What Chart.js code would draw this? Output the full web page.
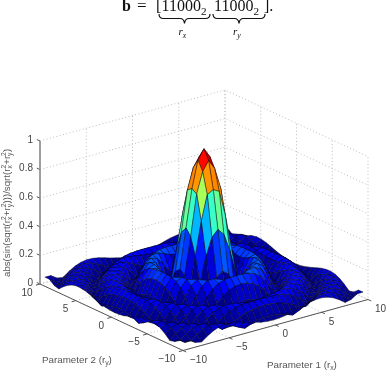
<!DOCTYPE html>
<html>
<head>
<meta charset="utf-8">
<title>sinc surface</title>
<script src="https://cdn.jsdelivr.net/npm/chart.js@4"></script>
<style>
    html, body { margin: 0; padding: 0; background: #fff; }
    canvas { display: block; }
</style>
</head>
<body>
<canvas id="surface" width="387" height="371"></canvas>
<script>
const xTicks = [-10, -5, 0, 5, 10];
const yTicks = [-10, -5, 0, 5, 10];
const zTicks = [0, 0.2, 0.4, 0.6, 0.8, 1];
const xTickLabels = ["\u221210", "\u22125", "0", "5", "10"];
const yTickLabels = ["\u221210", "\u22125", "0", "5", "10"];
const zTickLabels = ["0", "0.2", "0.4", "0.6", "0.8", "1"];

// sample positions from the centre outwards, the other half is the mirror image
const halfAxis = [0, 0.647, 1.293, 1.94, 2.587, 3.233, 3.88, 4.527, 5.173, 5.82, 6.467, 7.113, 7.76, 8.407, 9.053, 9.7];

// surface height for one quadrant, rows follow halfAxis
const quadrantZ = [
    [1.000, .932, .744, .481, .204, .028, .174, .217, .173, .077, .028, .104, .128, .101, .040, .028],
    [.932, .866, .720, .435, .172, .047, .181, .217, .168, .071, .033, .106, .128, .099, .038, .030],
    [.744, .720, .545, .311, .085, .096, .199, .212, .153, .053, .046, .112, .127, .093, .030, .036],
    [.481, .435, .311, .141, .028, .156, .215, .198, .124, .024, .067, .120, .124, .083, .018, .046],
    [.204, .172, .085, .028, .135, .203, .214, .168, .083, .013, .090, .127, .116, .067, .001, .057],
    [.028, .047, .096, .156, .203, .217, .187, .119, .030, .055, .112, .128, .101, .045, .020, .070],
    [.174, .181, .199, .215, .214, .187, .130, .053, .028, .093, .126, .120, .078, .018, .042, .082],
    [.217, .217, .212, .198, .168, .119, .053, .018, .081, .120, .127, .099, .048, .013, .063, .089],
    [.173, .168, .153, .124, .083, .030, .028, .081, .117, .128, .110, .067, .011, .044, .081, .091],
    [.077, .071, .053, .024, .013, .055, .093, .120, .128, .113, .076, .025, .028, .070, .090, .084],
    [.028, .033, .046, .067, .090, .112, .126, .127, .110, .076, .030, .020, .062, .087, .089, .068],
    [.104, .106, .112, .120, .127, .128, .120, .099, .067, .025, .020, .059, .085, .091, .075, .043],
    [.128, .128, .127, .124, .116, .101, .078, .048, .011, .028, .062, .085, .091, .079, .050, .012],
    [.101, .099, .093, .083, .067, .045, .018, .013, .044, .070, .087, .091, .079, .053, .017, .021],
    [.040, .038, .030, .018, .001, .020, .042, .063, .081, .090, .089, .075, .050, .017, .018, .049],
    [.028, .030, .036, .046, .057, .070, .082, .089, .091, .084, .068, .043, .012, .021, .049, .050]
];

const FONT = '"Liberation Sans", sans-serif';
const SERIF = '"Liberation Serif", serif';
const TICK_COLOR = '#444';
const TITLE_COLOR = '#555';

const SIZE = halfAxis.length * 2 - 1;
const MID = halfAxis.length - 1;

function axisValue(i) {
    const v = halfAxis[Math.abs(i - MID)];
    return i < MID ? -v : v;
}

function heightAt(i, j) {
    return quadrantZ[Math.abs(i - MID)][Math.abs(j - MID)];
}

// Oblique view of the box: the corners of the floor in canvas units
const floorLeft = { x: 40, y: 284 };
const floorFront = { x: 183, y: 350.5 };
const floorRight = { x: 368, y: 299.5 };
const BOX_HEIGHT = 143;

function project(x, y, z) {
    const u = (x + 10) / 20;
    const v = (y + 10) / 20;
    return {
        x: floorFront.x + u * (floorRight.x - floorFront.x) + v * (floorLeft.x - floorFront.x),
        y: floorFront.y + u * (floorRight.y - floorFront.y) + v * (floorLeft.y - floorFront.y) - z * BOX_HEIGHT
    };
}

// jet colormap in 64 steps
function jet(z) {
    const t = (Math.floor(Math.min(z, 0.9999) * 64) + 0.5) / 64;
    const band = c => Math.round(255 * Math.max(0, Math.min(1, c)));
    const r = band(Math.min(4 * t - 1.5, 4.5 - 4 * t));
    const g = band(Math.min(4 * t - 0.5, 3.5 - 4 * t));
    const b = band(Math.min(4 * t + 0.5, 2.5 - 4 * t));
    return `rgb(${r},${g},${b})`;
}

function pathDataset(points, color, width, dash) {
    return {
        data: points,
        showLine: true,
        fill: false,
        borderColor: color,
        borderWidth: width,
        borderDash: dash || [],
        pointRadius: 0,
        clip: false
    };
}

const datasets = [];

// Facets, nearest first: the library paints the last dataset first
for (let i = 0; i < SIZE - 1; i++) {
    for (let j = 0; j < SIZE - 1; j++) {
        const corners = [[i, j], [i + 1, j], [i + 1, j + 1], [i, j + 1], [i, j]];
        datasets.push({
            data: corners.map(c => project(axisValue(c[0]), axisValue(c[1]), heightAt(c[0], c[1]))),
            showLine: true,
            fill: 'shape',
            backgroundColor: jet(heightAt(i, j)),
            borderColor: 'rgba(10,10,20,0.55)',
            borderWidth: 0.8,
            pointRadius: 0,
            clip: false
        });
    }
}

// Box axes
const AXIS_DARK = '#555';
datasets.push(pathDataset([project(-10, 10, 0), project(-10, -10, 0), project(10, -10, 0)], AXIS_DARK, 1));
datasets.push(pathDataset([project(-10, 10, 0), project(-10, 10, 1)], '#8a8a8a', 1.6));

xTicks.forEach(x => {
    const a = project(x, -10, 0);
    const b = project(x, -10.45, 0);
    datasets.push(pathDataset([a, b], AXIS_DARK, 1));
});
yTicks.forEach(y => {
    const a = project(-10, y, 0);
    const b = project(-10.45, y, 0);
    datasets.push(pathDataset([a, b], AXIS_DARK, 1));
});
zTicks.forEach(z => {
    const a = project(-10, 10, z);
    const b = project(-10, 10.45, z);
    datasets.push(pathDataset([a, b], AXIS_DARK, 1));
});

// Dotted grid on the floor and the two back walls
const GRID = '#bdbdbd';
const DOTS = [1, 2.4];
zTicks.forEach(z => {
    datasets.push(pathDataset([project(-10, 10, z), project(10, 10, z), project(10, -10, z)], GRID, 1, DOTS));
});
xTicks.forEach(x => {
    datasets.push(pathDataset([project(x, -10, 0), project(x, 10, 0), project(x, 10, 1)], GRID, 1, DOTS));
});
yTicks.forEach(y => {
    datasets.push(pathDataset([project(-10, y, 0), project(10, y, 0), project(10, y, 1)], GRID, 1, DOTS));
});

// Writes a row of text pieces, a piece may carry a stacked superscript and subscript
function drawRuns(ctx, x, y, runs, size, family, color) {
    ctx.fillStyle = color;
    ctx.textAlign = 'left';
    ctx.textBaseline = 'alphabetic';
    let pen = x;
    runs.forEach(run => {
        if (run.text) {
            ctx.font = `${run.style || ''} ${size}px ${family}`;
            ctx.fillText(run.text, pen, y);
            pen += ctx.measureText(run.text).width;
        }
        const small = size * 0.7;
        ctx.font = `${run.subStyle || ''} ${small}px ${family}`;
        let w = 0;
        if (run.sup) {
            ctx.fillText(run.sup, pen, y - size * 0.42);
            w = ctx.measureText(run.sup).width;
        }
        if (run.sub) {
            ctx.fillText(run.sub, pen, y + size * 0.25);
            w = Math.max(w, ctx.measureText(run.sub).width);
        }
        pen += w;
    });
    return pen;
}

function drawBrace(ctx, x0, x1, top) {
    const mid = (x0 + x1) / 2;
    const bar = top + 4.5;
    ctx.beginPath();
    ctx.moveTo(x0, top);
    ctx.quadraticCurveTo(x0, bar, x0 + 4.5, bar);
    ctx.lineTo(mid - 4.5, bar);
    ctx.quadraticCurveTo(mid - 0.5, bar, mid, top + 9.5);
    ctx.quadraticCurveTo(mid + 0.5, bar, mid + 4.5, bar);
    ctx.lineTo(x1 - 4.5, bar);
    ctx.quadraticCurveTo(x1, bar, x1, top);
    ctx.stroke();
}

const textPlugin = {
    id: 'surfaceText',
    afterDraw(chart) {
        const ctx = chart.ctx;
        ctx.save();

        // Tick labels
        ctx.font = `10px ${FONT}`;
        ctx.fillStyle = TICK_COLOR;
        ctx.textBaseline = 'middle';
        const sx = chart.scales.x;
        const sy = chart.scales.y;
        ctx.textAlign = 'left';
        xTicks.forEach((x, k) => {
            const p = project(x, -10, 0);
            ctx.fillText(xTickLabels[k], sx.getPixelForValue(p.x + 7), sy.getPixelForValue(p.y + 9.5));
        });
        ctx.textAlign = 'right';
        yTicks.forEach((y, k) => {
            const p = project(-10, y, 0);
            ctx.fillText(yTickLabels[k], sx.getPixelForValue(p.x - 7.5), sy.getPixelForValue(p.y + 8.8));
        });
        zTicks.forEach((z, k) => {
            const p = project(-10, 10, z);
            ctx.fillText(zTickLabels[k], sx.getPixelForValue(p.x - 7), sy.getPixelForValue(p.y - 1));
        });

        // Axis titles
        drawRuns(ctx, 42, 363, [{ text: 'Parameter 2 (r', sub: 'y' }, { text: ')' }], 9.8, FONT, TITLE_COLOR);
        drawRuns(ctx, 267, 368, [{ text: 'Parameter 1 (r', sub: 'x' }, { text: ')' }], 9.8, FONT, TITLE_COLOR);
        ctx.save();
        ctx.translate(10, 277);
        ctx.rotate(-Math.PI / 2);
        drawRuns(ctx, 0, 0, [
            { text: 'abs(sin(sqrt(r', sup: '2', sub: 'x' },
            { text: '+r', sup: '2', sub: 'y' },
            { text: ')))/sqrt(r', sup: '2', sub: 'x' },
            { text: '+r', sup: '2', sub: 'y' },
            { text: ')' }
        ], 9.7, FONT, TITLE_COLOR);
        ctx.restore();

        // Equation above the plot
        ctx.strokeStyle = '#111';
        ctx.lineWidth = 1.2;
        const BLACK = '#111';
        drawRuns(ctx, 122, 11, [{ text: 'b', style: 'bold' }], 16, SERIF, BLACK);
        drawRuns(ctx, 137, 11, [{ text: '=' }], 17, SERIF, BLACK);
        drawRuns(ctx, 156, 11, [{ text: '[' }], 16, SERIF, BLACK);
        drawRuns(ctx, 161.5, 11, [{ text: '11000', sub: '2' }], 16, SERIF, BLACK);
        drawRuns(ctx, 214, 11, [{ text: '11000', sub: '2' }], 16, SERIF, BLACK);
        drawRuns(ctx, 264, 11, [{ text: '].' }], 16, SERIF, BLACK);
        drawBrace(ctx, 159, 210, 14);
        drawBrace(ctx, 213, 265, 14);
        drawRuns(ctx, 178.5, 35, [{ text: 'r', style: 'italic', sub: 'x', subStyle: 'italic' }], 11, SERIF, BLACK);
        drawRuns(ctx, 233, 35, [{ text: 'r', style: 'italic', sub: 'y', subStyle: 'italic' }], 11, SERIF, BLACK);

        ctx.restore();
    }
};

new Chart(document.getElementById('surface').getContext('2d'), {
    type: 'scatter',
    data: { datasets: datasets },
    options: {
        responsive: false,
        animation: false,
        events: [],
        layout: { padding: 0 },
        elements: { line: { tension: 0 } },
        plugins: {
            legend: { display: false },
            tooltip: { enabled: false },
            title: { display: false }
        },
        scales: {
            x: { type: 'linear', min: 0, max: 387, display: false },
            y: { type: 'linear', min: 0, max: 371, reverse: true, display: false }
        }
    },
    plugins: [textPlugin]
});
</script>
</body>
</html>
